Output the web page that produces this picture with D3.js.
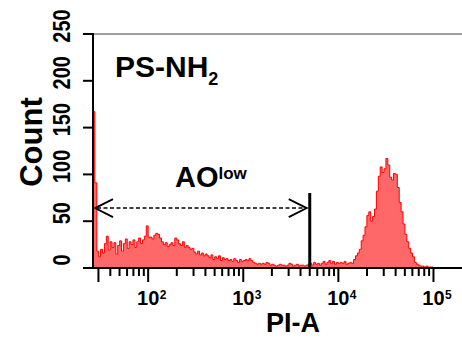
<!DOCTYPE html>
<html>
<head>
<meta charset="utf-8">
<script src="https://cdn.jsdelivr.net/npm/d3@7"></script>
<style>
html,body{margin:0;padding:0;background:#fff;}
svg{display:block;}
text{font-family:"Liberation Sans",Arial,sans-serif;font-weight:bold;fill:#000;}
</style>
</head>
<body>
<svg id="chart" width="462" height="338"></svg>
<script>
// ---- data ----
const binLogStart = 1.42;   // log10 of first bin edge (PI-A)
const binLogWidth = 0.02;   // bin width in decades
const counts = [
 167, 91, 18, 12, 20, 16, 26, 34, 19, 28,
 22, 27, 15, 24, 29, 18, 26, 31, 21, 28,
 25, 30, 22, 28, 32, 26, 30, 34, 45, 33,
 33, 31, 35, 37, 36, 32, 28, 25, 27, 23,
 25, 27, 24, 32, 30, 26, 24, 28, 22, 24,
 22, 20, 21, 17, 15, 18, 14, 16, 13, 15,
 13, 11, 14, 9, 12, 10, 13, 8, 11, 9,
 10, 8, 9, 7, 10, 8, 6, 9, 7, 8,
 9, 8, 10, 8, 6, 5, 4, 5, 4, 5,
 4, 6, 5, 3, 4, 3, 2, 3, 4, 3,
 3, 2, 3, 5, 4, 2, 3, 4, 2, 3,
 3, 2, 3, 4, 5, 3, 6, 4, 5, 3,
 5, 7, 4, 6, 8, 5, 7, 4, 6, 5,
 6, 5, 7, 4, 5, 6, 5, 9, 13, 16,
 20, 29, 35, 44, 56, 60, 50, 55, 63, 82,
 98, 108, 102, 106, 117, 110, 97, 94, 101, 100,
 86, 70, 60, 47, 36, 28, 21, 16, 12, 6,
 4, 3, 2, 2, 1, 2, 1, 1, 1, 0
];
const yTickValues = [0, 50, 100, 150, 200, 250];
const xMajorTicks = [100, 1000, 10000, 100000];
const xMajorExps = ["2", "3", "4", "5"];
const xMinorMultipliers = [2, 3, 4, 5, 6, 7, 8, 9];
const xDecades = [10, 100, 1000, 10000, 100000];
const gateValue = 5000;
const arrowFrom = 27.6, arrowTo = 4650;
const arrowCount = 64;
const titleMain = "PS-NH", titleSub = "2";
const gateLabel = "AO", gateSup = "low";
const xLabel = "PI-A", yLabel = "Count";

// ---- layout ----
const svg = d3.select("#chart");
const mLeft = 93, mRight = 462, mTop = 34, mBottom = 268;

const x = d3.scaleLog().domain([Math.pow(10, 1.42), Math.pow(10, 5.30)]).range([mLeft, mRight]);
const y = d3.scaleLinear().domain([0, 250]).range([mBottom, mTop]);

// histogram
const pts = counts.map((c, i) => ({v: Math.pow(10, binLogStart + i * binLogWidth), c}));
pts.push({v: Math.pow(10, binLogStart + counts.length * binLogWidth), c: 0});

const area = d3.area().curve(d3.curveStepAfter)
  .x(d => x(d.v)).y0(y(0)).y1(d => y(d.c));
const line = d3.line().curve(d3.curveStepAfter)
  .x(d => x(d.v)).y(d => y(d.c));

svg.append("path").datum(pts).attr("d", area).attr("fill", "#ff6868");
svg.append("path").datum(pts).attr("d", line).attr("fill", "none")
  .attr("stroke", "#ff0000").attr("stroke-width", 1);

// top gray frame line
svg.append("line").attr("x1", mLeft).attr("x2", mRight).attr("y1", mTop).attr("y2", mTop)
  .attr("stroke", "#808080").attr("stroke-width", 1.5);

// y axis
svg.append("line").attr("x1", mLeft).attr("x2", mLeft).attr("y1", mTop - 1).attr("y2", mBottom + 1)
  .attr("stroke", "#000").attr("stroke-width", 2);
yTickValues.forEach(t => {
  svg.append("line").attr("x1", mLeft - 10).attr("x2", mLeft).attr("y1", y(t)).attr("y2", y(t))
    .attr("stroke", "#000").attr("stroke-width", 2);
  svg.append("text")
    .attr("transform", `translate(70,${y(t) - 8}) rotate(-90) scale(1,1.15)`)
    .attr("text-anchor", "middle")
    .attr("font-size", 20)
    .text(t);
});

// x axis
svg.append("line").attr("x1", mLeft - 1).attr("x2", mRight).attr("y1", mBottom).attr("y2", mBottom)
  .attr("stroke", "#000").attr("stroke-width", 2);
const minorTicks = [];
xDecades.forEach(d => xMinorMultipliers.forEach(m => {
  const v = d * m;
  if (v >= x.domain()[0] && v <= x.domain()[1]) minorTicks.push(v);
}));
minorTicks.forEach(v => {
  const long = (v === minorTicks[0]);
  svg.append("line").attr("x1", x(v)).attr("x2", x(v))
    .attr("y1", mBottom).attr("y2", mBottom + (long ? 14 : 8))
    .attr("stroke", "#000").attr("stroke-width", 2);
});
xMajorTicks.forEach((v, i) => {
  svg.append("line").attr("x1", x(v)).attr("x2", x(v))
    .attr("y1", mBottom).attr("y2", mBottom + 14)
    .attr("stroke", "#000").attr("stroke-width", 2);
  svg.append("text").attr("x", x(v)).attr("y", 305)
    .attr("text-anchor", "middle").attr("font-size", 20).text("10");
  svg.append("text").attr("x", x(v) + 11.5).attr("y", 299)
    .attr("text-anchor", "start").attr("font-size", 12).text(xMajorExps[i]);
});

// axis titles
svg.append("text").attr("x", 293).attr("y", 332).attr("text-anchor", "middle")
  .attr("font-size", 27).text(xLabel);
svg.append("text").attr("transform", "translate(42,142) rotate(-90)")
  .attr("text-anchor", "middle").attr("font-size", 31).text(yLabel);

// title
const tt = svg.append("text").attr("x", 115).attr("y", 77).attr("font-size", 30);
tt.append("tspan").text(titleMain);
tt.append("tspan").attr("font-size", 18).attr("dy", 8).text(titleSub);

// gate line
svg.append("line").attr("x1", x(gateValue)).attr("x2", x(gateValue))
  .attr("y1", 193).attr("y2", mBottom)
  .attr("stroke", "#000").attr("stroke-width", 3);

// arrow
const ay = y(arrowCount);
const ax1 = x(arrowFrom), ax2 = x(arrowTo);
svg.append("line").attr("x1", ax1 + 2).attr("x2", ax2 - 2).attr("y1", ay).attr("y2", ay)
  .attr("stroke", "#000").attr("stroke-width", 1.5).attr("stroke-dasharray", "4,2.5");
svg.append("path").attr("d", `M${ax1 + 18},${ay - 9}L${ax1},${ay}L${ax1 + 18},${ay + 9}`)
  .attr("fill", "none").attr("stroke", "#000").attr("stroke-width", 1.8);
svg.append("path").attr("d", `M${ax2 - 18},${ay - 9}L${ax2},${ay}L${ax2 - 18},${ay + 9}`)
  .attr("fill", "none").attr("stroke", "#000").attr("stroke-width", 1.8);

// gate label
const gl = svg.append("text").attr("x", 175).attr("y", 187).attr("font-size", 29);
gl.append("tspan").text(gateLabel);
gl.append("tspan").attr("font-size", 17).attr("dy", -8).text(gateSup);
</script>
</body>
</html>
